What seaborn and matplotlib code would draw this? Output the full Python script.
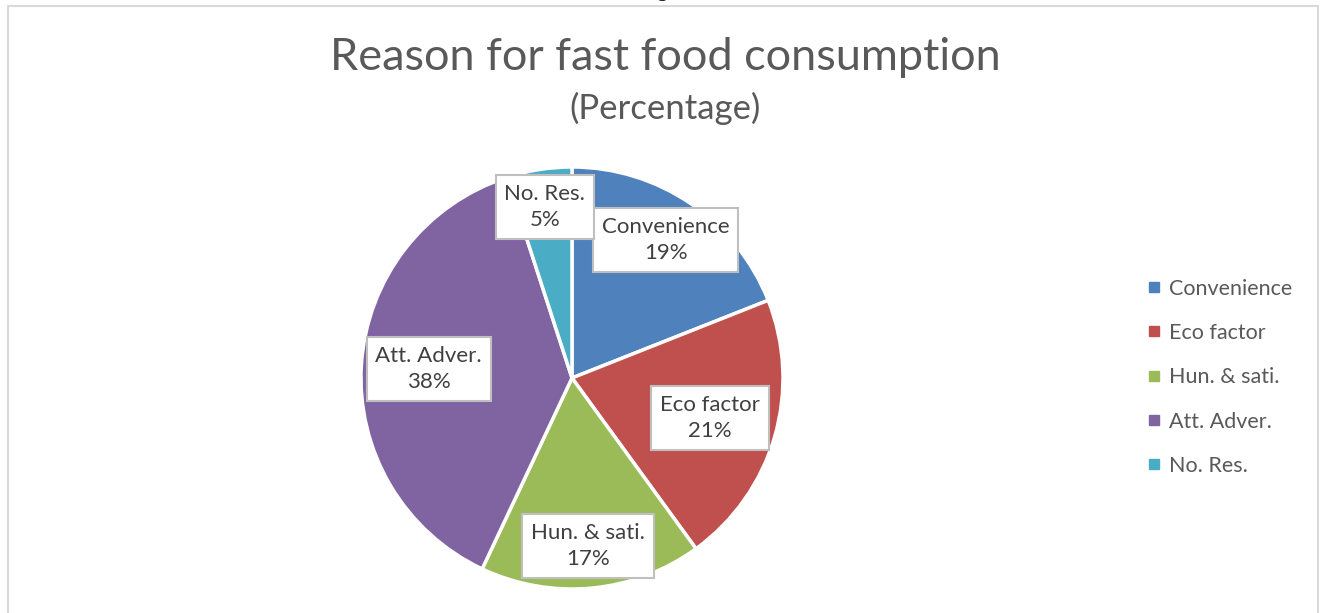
import numpy as np
import matplotlib
matplotlib.use("Agg")
import matplotlib.pyplot as plt
from matplotlib.patches import Rectangle
from matplotlib.lines import Line2D
import seaborn as sns

# Reasons for fast food consumption (percent of respondents)
categories = ["Convenience", "Eco factor", "Hun. & sati.", "Att. Adver.", "No. Res."]
percentages = [19, 21, 17, 38, 5]
colors = ["#4F81BD", "#C0504D", "#9BBB59", "#8064A2", "#4BACC6"]

# radial placement of each callout, as a fraction of the radius
label_radius = [0.79, 0.68, 0.80, 0.68, 0.82]

sns.set_theme(style="white")
plt.rcParams["font.family"] = ["Lato", "DejaVu Sans"]

W, H = 1325, 613
fig = plt.figure(figsize=(W / 100, H / 100), dpi=100)

# outer chart frame
fig.patches.append(Rectangle((8 / W, -0.05), (1318 - 8) / W, 1.05 - 6 / H,
                             transform=fig.transFigure, fill=False,
                             edgecolor="#D9D9D9", linewidth=1.5))

# fragment of the caption line above the chart
fig.text(640 / W, 1 + 4 / H, "Fig. 3,", fontsize=15, family="Liberation Serif",
         color="#000000", ha="left", va="baseline")

# pie axes: centre (572, 378), radius 211 px
cx, cy, r = 572, 378, 211
ax = fig.add_axes([(cx - r) / W, (H - cy - r) / H, 2 * r / W, 2 * r / H])
wedges, _ = ax.pie(percentages, colors=colors, startangle=90, counterclock=False,
                   radius=1.0, wedgeprops=dict(edgecolor="white", linewidth=2.5))
ax.set_xlim(-1, 1)
ax.set_ylim(-1, 1)
ax.set_aspect("equal")
ax.axis("off")

for w, name, val, rr in zip(wedges, categories, percentages, label_radius):
    ang = np.deg2rad((w.theta1 + w.theta2) / 2)
    x, y = rr * np.cos(ang), rr * np.sin(ang)
    ax.text(x, y, f"{name}\n{val}%", ha="center", va="center", fontsize=16,
            color="#404040", linespacing=1.4,
            bbox=dict(boxstyle="square,pad=0.4", facecolor="white",
                      edgecolor="#BFBFBF", linewidth=1.5))

# title and subtitle
fig.text(665 / W, 1 - 57 / H, "Reason for fast food consumption", ha="center",
         va="center", fontsize=32.5, color="#595959")
fig.text(665 / W, 1 - 108 / H, "(Percentage)", ha="center", va="center",
         fontsize=25, color="#595959")

# legend
handles = [Line2D([], [], marker="s", linestyle="none", markersize=7,
                  markerfacecolor=c, markeredgecolor=c) for c in colors]
fig.legend(handles, categories, loc="upper left",
           bbox_to_anchor=(1135 / W, 1 - 270 / H), frameon=False,
           fontsize=15.5, labelcolor="#595959", handletextpad=0.2,
           labelspacing=1.13, handlelength=1.0, borderaxespad=0)

fig.savefig("out.png", dpi=100)
